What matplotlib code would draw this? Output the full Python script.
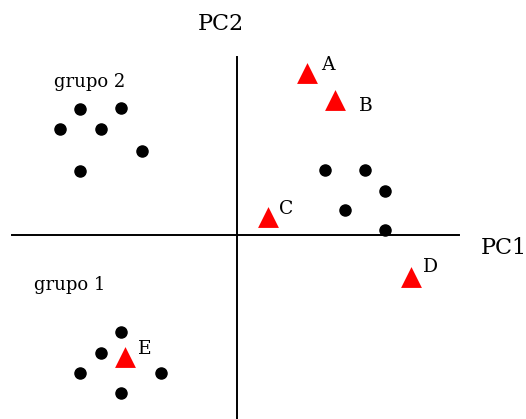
import matplotlib
matplotlib.use("Agg")
import matplotlib.pyplot as plt

# PCA scores (PC1, PC2) for the plain samples
grupo2_pc1 = [-7.85, -5.8, -8.85, -6.8, -4.75, -7.85]
grupo2_pc2 = [6.3, 6.35, 5.3, 5.3, 4.2, 3.2]

otros_pc1 = [4.4, 6.4, 7.4, 5.4, 7.4]
otros_pc2 = [3.25, 3.25, 2.2, 1.25, 0.25]

grupo1_pc1 = [-5.8, -6.8, -7.85, -3.8, -5.8]
grupo1_pc2 = [-4.85, -5.9, -6.9, -6.9, -7.9]

# labelled samples
nombres = ["A", "B", "C", "D", "E"]
marc_pc1 = [3.5, 4.9, 1.55, 8.7, -5.6]
marc_pc2 = [8.1, 6.75, 0.9, -2.1, -6.1]
# label offsets in points
offsets = [(15, 6), (22, -4), (13, 6), (14, 7), (14, 6)]

fig = plt.figure(figsize=(5.26, 4.19), dpi=100)
ax = fig.add_axes([0, 0, 1, 1])
ax.set_xlim(-11.85, 14.45)
ax.set_ylim(-9.2, 11.75)
ax.axis("off")

# axes through the origin
ax.plot([-11.25, 11.1], [0, 0], color="black", lw=1.4, zorder=1)
ax.plot([0, 0], [-9.2, 8.9], color="black", lw=1.4, zorder=1)

ax.scatter(grupo2_pc1, grupo2_pc2, s=64, c="black", zorder=2)
ax.scatter(otros_pc1, otros_pc2, s=64, c="black", zorder=2)
ax.scatter(grupo1_pc1, grupo1_pc2, s=64, c="black", zorder=2)
ax.scatter(marc_pc1, marc_pc2, s=225, marker="^", c="#ff0000", linewidths=0, zorder=3)

for n, x, y, off in zip(nombres, marc_pc1, marc_pc2, offsets):
    ax.annotate(n, (x, y), xytext=off, textcoords="offset points",
                ha="center", va="center", family="DejaVu Serif", fontsize=13.5)

ax.text(-7.35, 7.65, "grupo 2", ha="center", va="center", family="DejaVu Serif", fontsize=13)
ax.text(-8.35, -2.5, "grupo 1", ha="center", va="center", family="DejaVu Serif", fontsize=13)
ax.text(13.35, -0.65, "PC1", ha="center", va="center", family="DejaVu Serif", fontsize=16)
ax.text(-0.8, 10.55, "PC2", ha="center", va="center", family="DejaVu Serif", fontsize=16)

plt.savefig("out.png", dpi=100)
